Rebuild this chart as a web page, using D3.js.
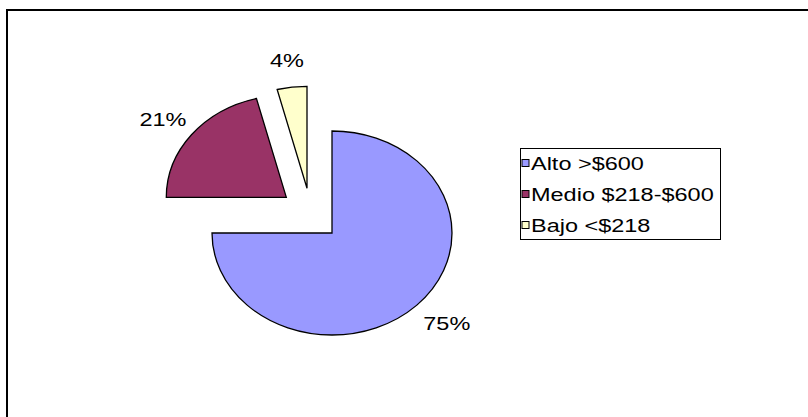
<!DOCTYPE html>
<html>
<head>
<meta charset="utf-8">
<script src="https://cdn.jsdelivr.net/npm/d3@7"></script>
<style>
  html, body { margin: 0; padding: 0; background: #fff; }
  svg { display: block; }
  text { font-family: "Liberation Sans", Arial, sans-serif; fill: #000; }
</style>
</head>
<body>
<svg id="chart" width="808" height="417"></svg>
<script>
// ---- data ----
const categories = ["Alto >$600", "Medio $218-$600", "Bajo <$218"];
const values = [75, 21, 4];
const labels = ["75%", "21%", "4%"];

// ---- styles ----
const colors = ["#9999FF", "#993366", "#FFFFCC"];
const explode = [[0, 0], [-45.7, -35.7], [-25, -44.7]]; // px offsets of exploded slices
const labelNudge = [[7, -1], [-3, 1], [-1, 1]];          // px nudges of data labels
const W = 808, H = 417;
const cx = 332, cy = 233, rx = 120, ry = 102;
const fontSize = 18.5, stretch = 1.27;

const svg = d3.select("#chart");

// outer chart border
svg.append("rect")
  .attr("x", 7).attr("y", 10)
  .attr("width", W + 20).attr("height", H + 20)
  .attr("fill", "#fff").attr("stroke", "#000").attr("stroke-width", 2);

const pie = d3.pie().sort(null).value(d => d).startAngle(0).endAngle(2 * Math.PI);
const arcs = pie(values);
const arc = d3.arc().innerRadius(0).outerRadius(rx);

const g = svg.append("g");
arcs.forEach((a, i) => {
  const ox = cx + explode[i][0], oy = cy + explode[i][1];
  g.append("path")
    .attr("d", arc(a))
    .attr("transform", `translate(${ox},${oy}) scale(1,${ry / rx})`)
    .attr("fill", colors[i])
    .attr("stroke", "#000")
    .attr("stroke-width", 1.3)
    .attr("vector-effect", "non-scaling-stroke")
    .attr("stroke-linejoin", "miter");
  // label
  const mid = (a.startAngle + a.endAngle) / 2;
  const k = 1.27;
  const lx = ox + Math.sin(mid) * rx * k + labelNudge[i][0];
  const ly = oy - Math.cos(mid) * ry * k + labelNudge[i][1];
  svg.append("text")
    .attr("transform", `translate(${lx},${ly + fontSize * 0.36}) scale(${stretch},1)`)
    .attr("text-anchor", "middle")
    .attr("font-size", fontSize)
    .text(labels[i]);
});

// legend
const lg = svg.append("g");
lg.append("rect")
  .attr("x", 520.5).attr("y", 148.5).attr("width", 200).attr("height", 91)
  .attr("fill", "#fff").attr("stroke", "#000").attr("stroke-width", 1);
const rowY = d3.scalePoint().domain(categories).range([163, 225]);
categories.forEach((c, i) => {
  const y = rowY(c);
  lg.append("rect")
    .attr("x", 522).attr("y", y - 3.5).attr("width", 7).attr("height", 7)
    .attr("fill", colors[i]).attr("stroke", "#000").attr("stroke-width", 1);
  lg.append("text")
    .attr("transform", `translate(531,${y + 7}) scale(${stretch},1)`)
    .attr("font-size", fontSize)
    .text(c);
});
</script>
</body>
</html>
